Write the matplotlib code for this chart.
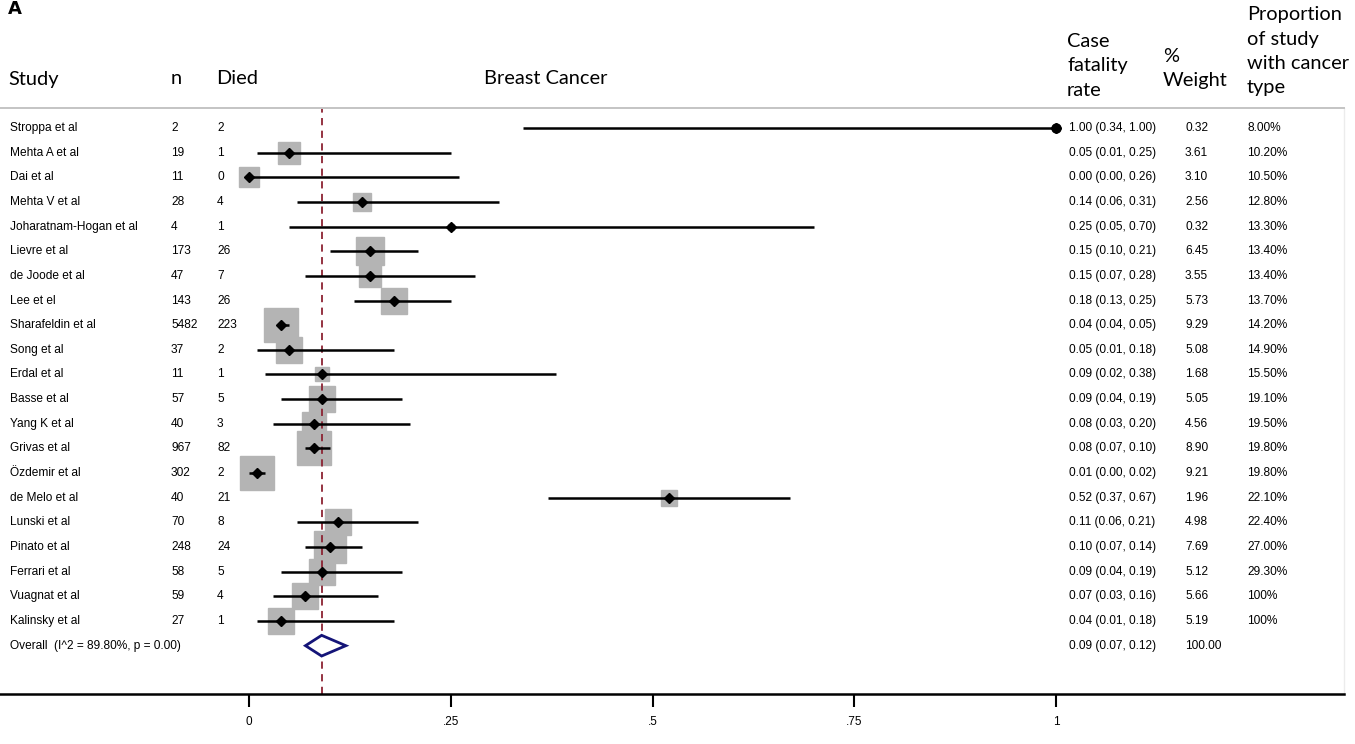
import numpy as np
import matplotlib
matplotlib.use('Agg')
import matplotlib.pyplot as plt
import matplotlib.transforms as mtransforms

# per-study data
studies = ["Stroppa et al", "Mehta A et al", "Dai et al", "Mehta V et al",
           "Joharatnam-Hogan et al", "Lievre et al", "de Joode et al", "Lee et el",
           "Sharafeldin et al", "Song et al", "Erdal et al", "Basse et al",
           "Yang K et al", "Grivas et al", "Özdemir et al", "de Melo et al",
           "Lunski et al", "Pinato et al", "Ferrari et al", "Vuagnat et al",
           "Kalinsky et al"]
n_total = [2, 19, 11, 28, 4, 173, 47, 143, 5482, 37, 11, 57, 40, 967, 302, 40,
           70, 248, 58, 59, 27]
n_died = [2, 1, 0, 4, 1, 26, 7, 26, 223, 2, 1, 5, 3, 82, 2, 21, 8, 24, 5, 4, 1]
cfr = [1.00, 0.05, 0.00, 0.14, 0.25, 0.15, 0.15, 0.18, 0.04, 0.05, 0.09, 0.09,
       0.08, 0.08, 0.01, 0.52, 0.11, 0.10, 0.09, 0.07, 0.04]
ci_lo = [0.34, 0.01, 0.00, 0.06, 0.05, 0.10, 0.07, 0.13, 0.04, 0.01, 0.02, 0.04,
         0.03, 0.07, 0.00, 0.37, 0.06, 0.07, 0.04, 0.03, 0.01]
ci_hi = [1.00, 0.25, 0.26, 0.31, 0.70, 0.21, 0.28, 0.25, 0.05, 0.18, 0.38, 0.19,
         0.20, 0.10, 0.02, 0.67, 0.21, 0.14, 0.19, 0.16, 0.18]
weights = [0.32, 3.61, 3.10, 2.56, 0.32, 6.45, 3.55, 5.73, 9.29, 5.08, 1.68, 5.05,
           4.56, 8.90, 9.21, 1.96, 4.98, 7.69, 5.12, 5.66, 5.19]
prop_cancer = ["8.00%", "10.20%", "10.50%", "12.80%", "13.30%", "13.40%", "13.40%",
               "13.70%", "14.20%", "14.90%", "15.50%", "19.10%", "19.50%", "19.80%",
               "19.80%", "22.10%", "22.40%", "27.00%", "29.30%", "100%", "100%"]

# pooled estimate
overall_est, overall_lo, overall_hi = 0.09, 0.07, 0.12
overall_weight = "100.00"
overall_label = "Overall  (I^2 = 89.80%, p = 0.00)"
xticks = [0, 0.25, 0.5, 0.75, 1]
xtick_labels = ["0", ".25", ".5", ".75", "1"]

W, H = 1355, 744
fig = plt.figure(figsize=(W / 100, H / 100), dpi=100)
fx = lambda px: px / W
fy = lambda py: 1 - py / H

body_font = ['Liberation Sans', 'DejaVu Sans']
head_font = ['Lato', 'DejaVu Sans']

ax = fig.add_axes([0, fy(694), fx(1344), (694 - 108) / H])
ax.set_xlim(-249 / 807, (1344 - 249) / 807)
nrow = len(studies)
ax.set_ylim(22.96, -0.81)

ax.spines['left'].set_visible(False)
ax.spines['top'].set_color('#c4c4c4')
ax.spines['top'].set_linewidth(1.4)
ax.spines['right'].set_color('#ececec')
ax.spines['right'].set_linewidth(1.0)
ax.spines['bottom'].set_linewidth(1.8)
ax.set_yticks([])
ax.set_xticks(xticks)
ax.set_xticklabels(xtick_labels, family=body_font, fontsize=8.5)
ax.tick_params(axis='x', direction='out', length=9.5, width=1.5, pad=6)

ys = np.arange(nrow)

# weight boxes, area proportional to % weight
for x, y, w in zip(cfr, ys, weights):
    ax.plot(x, y, marker='s', ms=8.1 * np.sqrt(w), color='#b4b4b4',
            mec='#b4b4b4', zorder=1)

ax.axvline(overall_est, color='#8c2333', lw=1.3, ls=(0, (4, 3)), zorder=2)
ax.hlines(ys, ci_lo, ci_hi, color='black', lw=1.8, zorder=3)
ax.plot(cfr, ys, 'D', color='black', ms=5.5, zorder=4)
ax.plot(cfr[0], ys[0], 'o', color='black', ms=6.5, zorder=4)

yo = nrow
ax.fill([overall_lo, overall_est, overall_hi, overall_est],
        [yo, yo - 0.42, yo, yo + 0.42],
        facecolor='white', edgecolor='#141478', lw=2, zorder=5)

# table columns
tr = mtransforms.blended_transform_factory(fig.transFigure, ax.transData)
kw = dict(transform=tr, va='center', ha='left', fontsize=8.6,
          family=body_font, clip_on=False)
for i in range(nrow):
    ax.text(fx(10), i, studies[i], **kw)
    ax.text(fx(171), i, str(n_total[i]), **kw)
    ax.text(fx(217), i, str(n_died[i]), **kw)
    ax.text(fx(1069), i, f"{cfr[i]:.2f} ({ci_lo[i]:.2f}, {ci_hi[i]:.2f})", **kw)
    ax.text(fx(1185), i, f"{weights[i]:.2f}", **kw)
    ax.text(fx(1247), i, prop_cancer[i], **kw)
ax.text(fx(10), yo, overall_label, **kw)
ax.text(fx(1069), yo, f"{overall_est:.2f} ({overall_lo:.2f}, {overall_hi:.2f})", **kw)
ax.text(fx(1185), yo, overall_weight, **kw)

# headers
hk = dict(va='baseline', ha='left', fontsize=14.4, family=head_font)
fig.text(fx(8), fy(14), "A", fontsize=13, fontweight='bold',
         va='baseline', family=['DejaVu Sans'])
fig.text(fx(8), fy(85), "Study", **hk)
fig.text(fx(171), fy(84), "n", **hk)
fig.text(fx(216), fy(84), "Died", **hk)
fig.text(fx(484), fy(84), "Breast Cancer", **hk)
for line, b in zip(["Case", "fatality", "rate"], [47, 71.5, 96]):
    fig.text(fx(1067), fy(b), line, **hk)
for line, b in zip(["%", "Weight"], [62, 86]):
    fig.text(fx(1163), fy(b), line, **hk)
for line, b in zip(["Proportion", "of study", "with cancer", "type"],
                   [20, 44.5, 69, 93.5]):
    fig.text(fx(1247), fy(b), line, **hk)

fig.savefig("out.png", dpi=100)
